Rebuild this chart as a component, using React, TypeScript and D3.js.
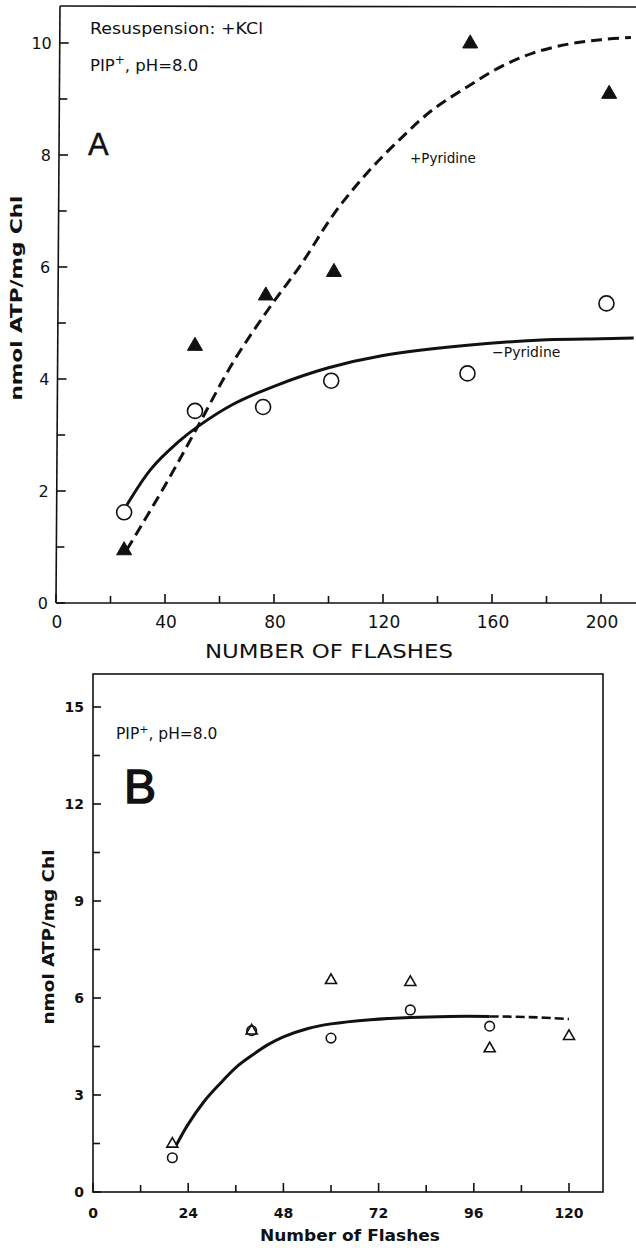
import React from "react";
import * as d3 from "d3";

// ---------- Panel A data ----------
const aXTicks = [0, 40, 80, 120, 160, 200];
const aXMinor = [20, 60, 100, 140, 180];
const aYTicks = [0, 2, 4, 6, 8, 10];
const aYMinor = [1, 3, 5, 7, 9];
const aTriX = [25, 51, 77, 102, 152, 203];
const aTriY = [0.95, 4.6, 5.5, 5.92, 10.0, 9.1];
const aCirX = [25, 51, 76, 101, 151, 202];
const aCirY = [1.62, 3.43, 3.5, 3.97, 4.1, 5.35];
const aMinusCurve: [number, number][] = [
  [26, 1.75], [35, 2.4], [45, 2.88], [52, 3.15], [65, 3.55], [80, 3.87],
  [100, 4.2], [120, 4.42], [150, 4.6], [180, 4.7], [200, 4.72], [212, 4.73],
];
const aPlusCurve: [number, number][] = [
  [26, 0.95], [40, 2.1], [52, 3.15], [65, 4.3], [78, 5.25], [90, 6.05],
  [102, 6.95], [114, 7.67], [126, 8.27], [138, 8.8], [151, 9.22], [163, 9.57],
  [175, 9.82], [188, 9.98], [200, 10.06], [211, 10.1],
];

// ---------- Panel B data ----------
const bXTicks = [0, 24, 48, 72, 96, 120];
const bXMinor = [12, 36, 60, 84, 108];
const bYTicks = [0, 3, 6, 9, 12, 15];
const bYMinor = [1.5, 4.5, 7.5, 10.5, 13.5];
const bTriX = [20, 40, 60, 80, 100, 120];
const bTriY = [1.5, 5.0, 6.56, 6.5, 4.45, 4.83];
const bCirX = [20, 40, 60, 80, 100];
const bCirY = [1.06, 4.99, 4.76, 5.63, 5.13];
const bSolidCurve: [number, number][] = [
  [21, 1.45], [24, 2.1], [28, 2.8], [32, 3.35], [36, 3.85], [40, 4.22],
  [44, 4.55], [48, 4.8], [54, 5.05], [60, 5.2], [70, 5.33], [80, 5.4],
  [90, 5.43], [100, 5.43],
];
const bDashCurve: [number, number][] = [[100, 5.43], [110, 5.41], [120, 5.35]];

const FONT = "'DejaVu Sans', 'Liberation Sans', sans-serif";

export default function App() {
  // Panel A scales
  const xA = d3.scaleLinear().domain([0, 200]).range([56, 601]);
  const yA = d3.scaleLinear().domain([0, 10]).range([603, 43]);
  const axA = (y: number) => 56 + ((603 - y) / 597) * 4;
  const lineA = d3
    .line<[number, number]>()
    .x((d) => xA(d[0]))
    .y((d) => yA(d[1]))
    .curve(d3.curveCatmullRom.alpha(0.5));

  // Panel B scales
  const xB = d3.scaleLinear().domain([0, 120]).range([93, 569]);
  const yB = d3.scaleLinear().domain([0, 15]).range([1192, 707]);
  const lineB = d3
    .line<[number, number]>()
    .x((d) => xB(d[0]))
    .y((d) => yB(d[1]))
    .curve(d3.curveCatmullRom.alpha(0.5));

  const triPath = (cx: number, cy: number, s: number) => {
    const h = s * 0.87;
    return `M${cx},${cy - h * 0.62}L${cx + s / 2},${cy + h * 0.38}L${cx - s / 2},${cy + h * 0.38}Z`;
  };

  return (
    <svg
      width={636}
      height={1248}
      style={{ position: "absolute", left: 0, top: 0, background: "#fff" }}
      fontFamily={FONT}
    >
      <rect x={0} y={0} width={636} height={1248} fill="#fff" />
      {/* ================= Panel A ================= */}
      <g stroke="#111" strokeWidth={1.6} fill="none">
        <line x1={56} y1={603} x2={60} y2={6} />
        <line x1={60} y1={6} x2={636} y2={7} />
        <line x1={56} y1={603} x2={636} y2={603} />
        {aYTicks.map((t) => (
          <line key={"ay" + t} x1={axA(yA(t))} x2={axA(yA(t)) + 9} y1={yA(t)} y2={yA(t)} />
        ))}
        {aYMinor.map((t) => (
          <line key={"aym" + t} x1={axA(yA(t))} x2={axA(yA(t)) + 8} y1={yA(t)} y2={yA(t)} />
        ))}
        {aXTicks.map((t) => (
          <line key={"ax" + t} x1={xA(t)} x2={xA(t)} y1={603} y2={594} />
        ))}
        {aXMinor.map((t) => (
          <line key={"axm" + t} x1={xA(t)} x2={xA(t)} y1={603} y2={596} />
        ))}
      </g>
      <g fontSize={16} fill="#111" textAnchor="end">
        {aYTicks.map((t) => (
          <text key={"ayl" + t} x={axA(yA(t)) - 8} y={yA(t) + 6}>
            {t}
          </text>
        ))}
      </g>
      <g fontSize={17} fill="#111" textAnchor="middle">
        {aXTicks.map((t) => (
          <text key={"axl" + t} x={xA(t) + 1} y={628}>
            {t}
          </text>
        ))}
      </g>
      <text x={329} y={658} fontSize={19} textAnchor="middle" fill="#111" textLength={248} lengthAdjust="spacingAndGlyphs">
        NUMBER OF FLASHES
      </text>
      <text
        transform="translate(22,298) rotate(-90)"
        fontSize={16}
        fontWeight="bold"
        textAnchor="middle"
        fill="#111"
        textLength={205}
        lengthAdjust="spacingAndGlyphs"
      >
        nmol ATP/mg Chl
      </text>
      <text x={90} y={34} fontSize={16.5} fill="#111" textLength={173} lengthAdjust="spacingAndGlyphs">
        Resuspension: +KCl
      </text>
      <text x={90} y={71} fontSize={16.5} fill="#111">
        PIP<tspan dy={-7} fontSize={12}>+</tspan>
        <tspan dy={7}>, pH=8.0</tspan>
      </text>
      <text x={88} y={155} fontSize={31} fill="#111" stroke="#111" strokeWidth={0.4} fontFamily="'Liberation Sans', sans-serif">
        A
      </text>
      <text x={410} y={163} fontSize={13.5} fill="#111">
        +Pyridine
      </text>
      <text x={492} y={357} fontSize={14} fill="#111">
        −Pyridine
      </text>

      <path d={lineA(aMinusCurve) || ""} fill="none" stroke="#111" strokeWidth={3} />
      <path
        d={lineA(aPlusCurve) || ""}
        fill="none"
        stroke="#111"
        strokeWidth={3}
        strokeDasharray="11 6"
      />
      {aCirX.map((x, i) => (
        <circle key={"ac" + i} cx={xA(x)} cy={yA(aCirY[i])} r={7.5} fill="#fff" stroke="#111" strokeWidth={1.6} />
      ))}
      {aTriX.map((x, i) => (
        <path key={"at" + i} d={triPath(xA(x), yA(aTriY[i]), 15)} fill="#111" stroke="#111" strokeWidth={1} />
      ))}

      {/* ================= Panel B ================= */}
      <g stroke="#111" strokeWidth={1.6} fill="none">
        <rect x={93} y={674} width={510} height={518} />
        {bYTicks.map((t) => (
          <line key={"by" + t} x1={93} x2={101} y1={yB(t)} y2={yB(t)} />
        ))}
        {bYMinor.map((t) => (
          <line key={"bym" + t} x1={93} x2={100} y1={yB(t)} y2={yB(t)} />
        ))}
        {bXTicks.map((t) => (
          <line key={"bx" + t} x1={xB(t)} x2={xB(t)} y1={1192} y2={1183} />
        ))}
        {bXMinor.map((t) => (
          <line key={"bxm" + t} x1={xB(t)} x2={xB(t)} y1={1192} y2={1185} />
        ))}
      </g>
      <g fontSize={14} fill="#111" textAnchor="end" fontWeight="bold">
        {bYTicks.map((t) => (
          <text key={"byl" + t} x={84} y={yB(t) + 5}>
            {t}
          </text>
        ))}
      </g>
      <g fontSize={14} fill="#111" textAnchor="middle" fontWeight="bold">
        {bXTicks.map((t) => (
          <text key={"bxl" + t} x={xB(t)} y={1218}>
            {t}
          </text>
        ))}
      </g>
      <text x={350} y={1241} fontSize={16} fontWeight="bold" textAnchor="middle" fill="#111" textLength={180} lengthAdjust="spacingAndGlyphs">
        Number of Flashes
      </text>
      <text
        transform="translate(54,937) rotate(-90)"
        fontSize={15}
        fontWeight="bold"
        textAnchor="middle"
        fill="#111"
        textLength={175}
        lengthAdjust="spacingAndGlyphs"
      >
        nmol ATP/mg Chl
      </text>
      <text x={116} y={739} fontSize={15.5} fill="#111">
        PIP<tspan dy={-6} fontSize={11}>+</tspan>
        <tspan dy={6}>, pH=8.0</tspan>
      </text>
      <text x={124} y={803} fontSize={48} fill="#111" stroke="#111" strokeWidth={1.5} fontFamily="'Liberation Sans', sans-serif">
        B
      </text>

      <path d={lineB(bSolidCurve) || ""} fill="none" stroke="#111" strokeWidth={3} />
      <path d={lineB(bDashCurve) || ""} fill="none" stroke="#111" strokeWidth={2.6} strokeDasharray="9 4" />
      {bCirX.map((x, i) => (
        <circle key={"bc" + i} cx={xB(x)} cy={yB(bCirY[i])} r={4.8} fill="#fff" stroke="#111" strokeWidth={1.6} />
      ))}
      {bTriX.map((x, i) => (
        <path key={"bt" + i} d={triPath(xB(x), yB(bTriY[i]), 11)} fill="none" stroke="#111" strokeWidth={1.6} />
      ))}
    </svg>
  );
}
